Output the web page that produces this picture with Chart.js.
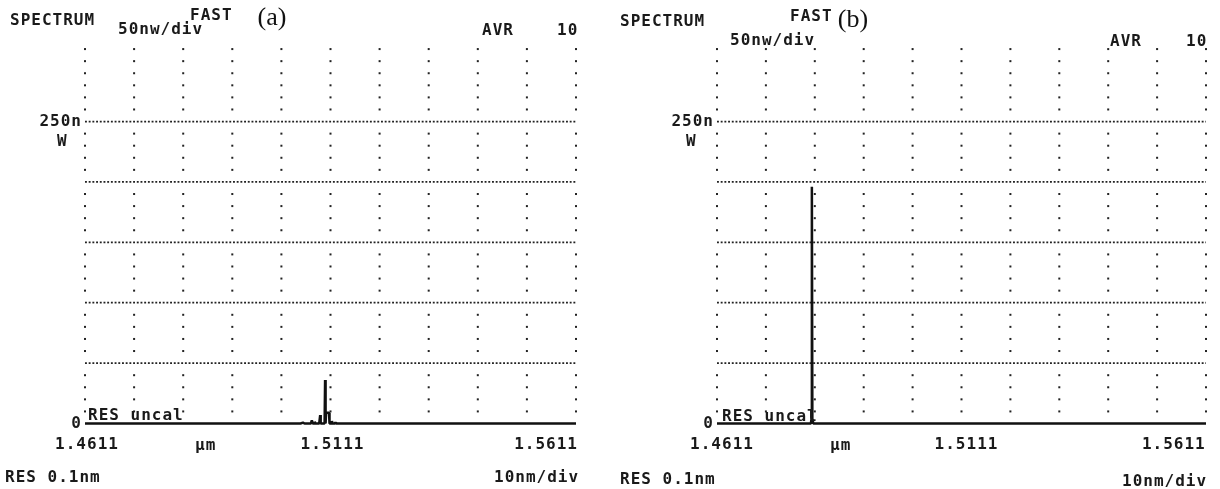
<!DOCTYPE html>
<html><head><meta charset="utf-8">
<script src="https://cdn.jsdelivr.net/npm/chart.js@4.4.1/dist/chart.umd.min.js"></script>
<style>
html,body{margin:0;padding:0;background:#fff;}
#wrap{position:relative;width:1220px;height:489px;overflow:hidden;background:#fff;}
canvas{position:absolute;top:0;}
.t{position:absolute;font-family:"DejaVu Sans Mono",monospace;font-size:16px;font-weight:bold;letter-spacing:1px;line-height:16px;color:#1a1a1a;white-space:pre;}
.p{position:absolute;font-family:"Liberation Serif",serif;font-size:26px;line-height:26px;color:#111;transform:translateX(-50%);}
</style></head><body>
<div id="wrap">
<canvas id="ca" width="600" height="489" style="left:0"></canvas>
<canvas id="cb" width="620" height="489" style="left:600px"></canvas>

<div class="p" style="left:272px;top:4px">(a)</div>
<div class="t" style="left:10px;top:12px">SPECTRUM</div>
<div class="t" style="left:190px;top:7px">FAST</div>
<div class="t" style="left:118px;top:21px">50nw/div</div>
<div class="t" style="left:482px;top:22px">AVR</div>
<div class="t" style="left:557px;top:22px">10</div>
<div class="t" style="left:57px;top:133px">W</div>
<div class="t" style="left:88px;top:407px">RES uncal</div>
<div class="t" style="left:195px;top:437px">µm</div>
<div class="t" style="left:5px;top:469px">RES 0.1nm</div>
<div class="t" style="left:494px;top:469px">10nm/div</div>

<div class="p" style="left:853px;top:6px">(b)</div>
<div class="t" style="left:620px;top:13px">SPECTRUM</div>
<div class="t" style="left:790px;top:8px">FAST</div>
<div class="t" style="left:730px;top:32px">50nw/div</div>
<div class="t" style="left:1110px;top:33px">AVR</div>
<div class="t" style="left:1186px;top:33px">10</div>
<div class="t" style="left:686px;top:133px">W</div>
<div class="t" style="left:722px;top:408px">RES uncal</div>
<div class="t" style="left:830px;top:437px">µm</div>
<div class="t" style="left:620px;top:471px">RES 0.1nm</div>
<div class="t" style="left:1122px;top:473px">10nm/div</div>
</div>
<script>
// ---- data (wavelength in µm, power in nW) ----
const wavelengthA = [1.4611, 1.5050, 1.5055, 1.5058, 1.5071, 1.5073, 1.5075, 1.5078, 1.5079, 1.5080, 1.5088, 1.5090, 1.5091, 1.5099, 1.5100, 1.5101, 1.5102, 1.5108, 1.5109, 1.5113, 1.5114, 1.5115, 1.5120, 1.5121, 1.5122, 1.5611];
const powerA      = [0,      0,      0.7,    0,      0,      2.5,    0,      0,      1.5,    0,      0,      7,      0,      0,      36,     0,      9,      9,      0,      0,      2,      0,      0,      1.2,    0,      0];
const wavelengthB = [1.4611, 1.4803, 1.4804, 1.4805, 1.4806, 1.4808, 1.5611];
const powerB      = [0,      0,      3,      196,    4,      0,      0];

const xMin = 1.4611, xMax = 1.5611;
const xTickValues = [1.4611, 1.5111, 1.5611];
const xTickLabelsA = ['1.4611', '1.5111', '1.5611      '];
const xTickLabelsB = ['1.4611', '1.5111', '1.5611       '];
const yTickValues = [0, 50, 100, 150, 200, 250];
const yTickLabels = ['0', '', '', '', '', '250n'];
const yMax = 320;
const hLineLevels = [50, 100, 150, 200, 250];

const INK = '#1a1a1a';
const MONO = '"DejaVu Sans Mono", monospace';

const osaGrid = {
  id: 'osaGrid',
  beforeDraw(chart) { chart.ctx.letterSpacing = '1px'; },
  beforeDatasetsDraw(chart) {
    const {ctx, chartArea, scales: {x, y}} = chart;
    ctx.save();
    ctx.strokeStyle = '#222';
    ctx.lineWidth = 1.8;
    ctx.setLineDash([1.9, 1.8]);
    for (const v of hLineLevels) {
      const py = y.getPixelForValue(v);
      ctx.beginPath(); ctx.moveTo(chartArea.left, py); ctx.lineTo(chartArea.right, py); ctx.stroke();
    }
    ctx.setLineDash([]);
    ctx.fillStyle = '#222';
    for (let i = 0; i <= 10; i++) {
      const px = x.getPixelForValue(x.min + i * (x.max - x.min) / 10);
      for (let v = 10; v <= 310; v += 10) {
        if (v <= 250 && v % 50 === 0) continue;
        const py = y.getPixelForValue(v);
        ctx.fillRect(px - 1, py - 1, 2, 2);
      }
    }
    ctx.restore();
  }
};

function makePanel(id, wl, pw, areaLeft, areaRight, canvasW, yPad, xOff, xLabels) {
  const pts = wl.map((w, i) => ({x: w, y: pw[i]}));
  return new Chart(document.getElementById(id), {
    type: 'line',
    data: {datasets: [{data: pts, borderColor: '#111', borderWidth: 2.5, pointRadius: 0, tension: 0,
      borderJoinStyle: 'bevel', clip: false}]},
    options: {
      responsive: false, animation: false, devicePixelRatio: 1,
      layout: {padding: {left: 0, right: canvasW - areaRight, top: 37, bottom: 35.5}},
      plugins: {legend: {display: false}, tooltip: {enabled: false}},
      scales: {
        x: {
          type: 'linear', min: xMin, max: xMax,
          grid: {display: false, drawTicks: false}, border: {display: false},
          afterBuildTicks: s => { s.ticks = xTickValues.map(v => ({value: v})); },
          afterFit: s => { s.height = 30; s.paddingLeft = 0; s.paddingRight = 0; },
          ticks: {autoSkip: false, maxRotation: 0, padding: 12, labelOffset: xOff, color: INK,
            font: {family: MONO, size: 16, weight: 'bold'},
            callback: (v) => xLabels[xTickValues.indexOf(v)]}
        },
        y: {
          type: 'linear', min: 0, max: yMax,
          grid: {display: false, drawTicks: false}, border: {display: false},
          afterBuildTicks: s => { s.ticks = yTickValues.map(v => ({value: v})); },
          afterFit: s => { s.width = areaLeft; s.paddingTop = 0; s.paddingBottom = 0; },
          ticks: {padding: yPad, color: INK, font: {family: MONO, size: 16, weight: 'bold'},
            callback: (v) => yTickLabels[yTickValues.indexOf(v)]}
        }
      }
    },
    plugins: [osaGrid]
  });
}

makePanel('ca', wavelengthA, powerA, 85, 576, 600, 3, 2, xTickLabelsA);
makePanel('cb', wavelengthB, powerB, 117, 606, 620, 3, 5, xTickLabelsB);
</script>
</body></html>
